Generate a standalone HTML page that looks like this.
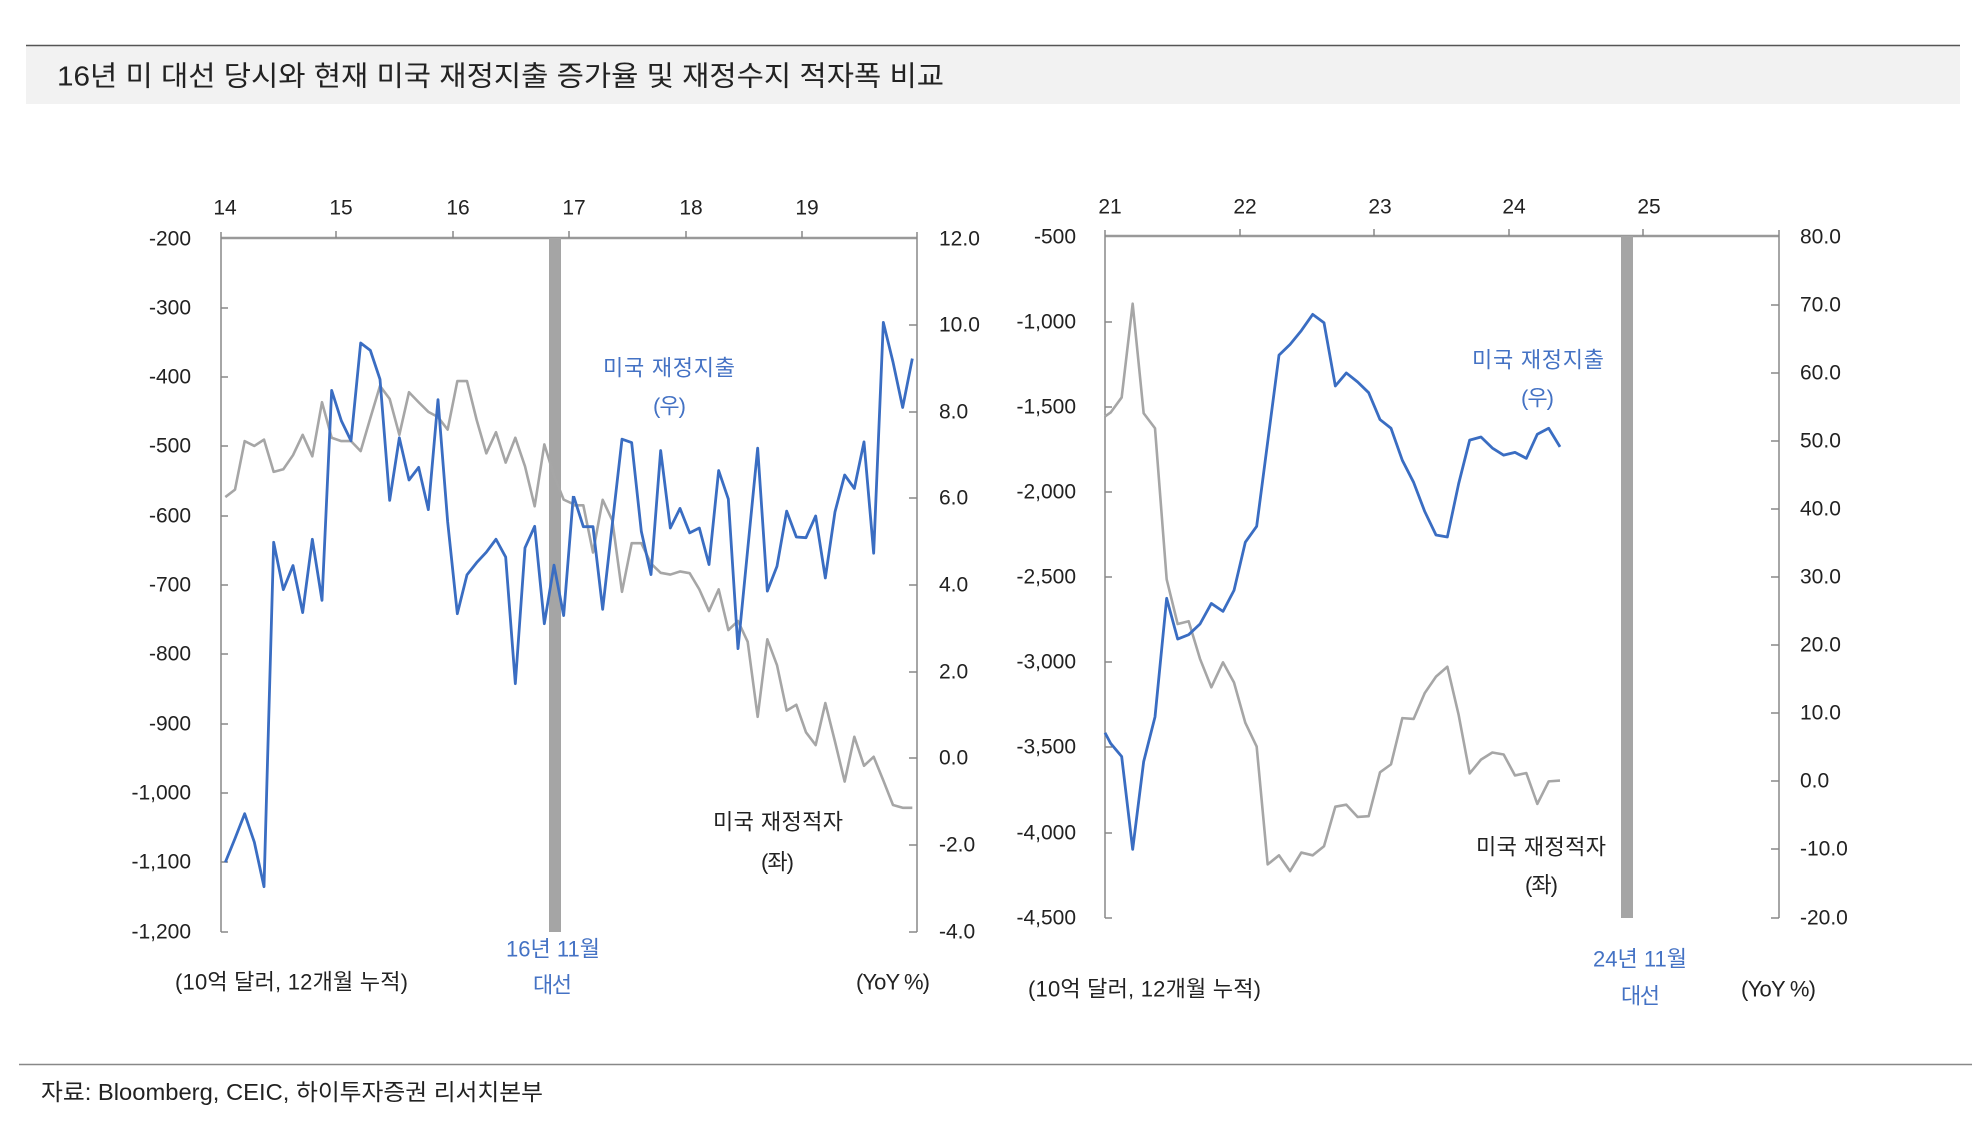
<!DOCTYPE html>
<html><head><meta charset="utf-8"><style>
html,body{margin:0;padding:0;background:#fff}
svg{display:block}
text{font-family:"Liberation Sans","Noto Sans CJK KR",sans-serif}
</style></head><body>
<svg width="1986" height="1130" viewBox="0 0 1986 1130" xmlns="http://www.w3.org/2000/svg">
<rect x="26" y="45" width="1934" height="59" fill="#f2f2f2"/>
<line x1="26" y1="45.5" x2="1960" y2="45.5" stroke="#555" stroke-width="1.5"/>
<text x="57" y="76" font-size="28" fill="#222" dominant-baseline="central" textLength="887" lengthAdjust="spacingAndGlyphs">16년 미 대선 당시와 현재 미국 재정지출 증가율 및 재정수지 적자폭 비교</text>

<!-- LEFT CHART -->
<g font-size="21" fill="#222">
<g text-anchor="middle">
<text x="225" y="208" dominant-baseline="central">14</text>
<text x="341" y="208" dominant-baseline="central">15</text>
<text x="458" y="208" dominant-baseline="central">16</text>
<text x="574" y="208" dominant-baseline="central">17</text>
<text x="691" y="208" dominant-baseline="central">18</text>
<text x="807" y="208" dominant-baseline="central">19</text>
</g>
<g text-anchor="end">
<text x="191" y="239" dominant-baseline="central">-200</text>
<text x="191" y="308" dominant-baseline="central">-300</text>
<text x="191" y="377" dominant-baseline="central">-400</text>
<text x="191" y="446" dominant-baseline="central">-500</text>
<text x="191" y="516" dominant-baseline="central">-600</text>
<text x="191" y="585" dominant-baseline="central">-700</text>
<text x="191" y="654" dominant-baseline="central">-800</text>
<text x="191" y="724" dominant-baseline="central">-900</text>
<text x="191" y="793" dominant-baseline="central">-1,000</text>
<text x="191" y="862" dominant-baseline="central">-1,100</text>
<text x="191" y="932" dominant-baseline="central">-1,200</text>
</g>
<g>
<text x="939" y="239" dominant-baseline="central">12.0</text>
<text x="939" y="325" dominant-baseline="central">10.0</text>
<text x="939" y="412" dominant-baseline="central">8.0</text>
<text x="939" y="498" dominant-baseline="central">6.0</text>
<text x="939" y="585" dominant-baseline="central">4.0</text>
<text x="939" y="672" dominant-baseline="central">2.0</text>
<text x="939" y="758" dominant-baseline="central">0.0</text>
<text x="939" y="845" dominant-baseline="central">-2.0</text>
<text x="939" y="932" dominant-baseline="central">-4.0</text>
</g>
</g>
<g stroke="#888" stroke-width="1.5" fill="none">
<line x1="221" y1="238" x2="917" y2="238" stroke="#999" stroke-width="2.5"/>
<line x1="221" y1="232" x2="221" y2="932"/>
<line x1="917" y1="232" x2="917" y2="932"/>
<path d="M336 231V238M453 231V238M569 231V238M686 231V238M802 231V238"/>
<path d="M221 308h7M221 377h7M221 446h7M221 516h7M221 585h7M221 654h7M221 724h7M221 793h7M221 862h7M221 932h7"/>
<path d="M917 325h-8M917 412h-8M917 498h-8M917 585h-8M917 672h-8M917 758h-8M917 845h-8M917 932h-8"/>
</g>
<rect x="549" y="238" width="12" height="694" fill="#a5a5a5"/>
<g transform="translate(215,320) scale(0.33333,0.37037)" fill="none" stroke-linejoin="round">
<polyline vector-effect="non-scaling-stroke" stroke="#a6a6a6" stroke-width="2.6" points="31,478 60,458 89,327 118,340 147,323 176,410 205,403 234,365 263,310 292,368 321,222 350,318 379,327 408,327 437,354 466,265 495,178 524,213 553,310 582,195 611,222 640,248 669,262 698,296 727,165 756,165 785,270 814,360 843,303 872,385 901,318 930,395 959,503 988,336 1017,420 1046,485 1075,497"/>
<polyline vector-effect="non-scaling-stroke" stroke="#3a6dc2" stroke-width="2.8" points="31,1464 60,1400 89,1333 118,1410 147,1530 176,600 205,728 234,663 263,790 292,592 321,757 350,190 379,272 408,326 437,62 466,82 495,160 524,487 553,318 582,432 611,398 640,512 669,215 698,545 727,793 756,688 785,655 814,627 843,592 872,640 901,982 930,615 959,557 988,820 1017,662 1046,798 1075,475"/>
</g>
<g transform="translate(560,300) scale(0.33333,0.34448)" fill="none" stroke-linejoin="round">
<polyline vector-effect="non-scaling-stroke" stroke="#a6a6a6" stroke-width="2.6" points="41,596 70,596 99,733 128,580 157,640 186,847 215,706 244,706 273,765 302,792 331,797 360,788 389,793 418,840 447,903 476,840 505,958 534,932 563,992 593,1210 622,985 651,1060 680,1192 709,1175 738,1255 767,1292 796,1170 825,1282 854,1398 883,1268 912,1352 941,1326 970,1395 999,1466 1028,1474 1057,1474"/>
<polyline vector-effect="non-scaling-stroke" stroke="#3a6dc2" stroke-width="2.8" points="41,570 70,658 99,658 128,898 157,650 186,404 215,414 244,672 273,797 302,437 331,662 360,605 389,676 418,662 447,768 476,495 505,578 534,1012 563,725 593,430 622,845 651,773 680,613 709,688 738,690 767,627 796,807 825,615 854,508 883,547 912,412 941,735 970,65 999,180 1028,312 1057,170"/>
</g>
<g font-size="22" lengthAdjust="spacingAndGlyphs">
<text x="603" y="368" fill="#4472c4" dominant-baseline="central" textLength="132">미국 재정지출</text>
<text x="653" y="406" fill="#4472c4" dominant-baseline="central" textLength="33">(우)</text>
<text x="713" y="822" fill="#222" dominant-baseline="central" textLength="130">미국 재정적자</text>
<text x="761" y="862" fill="#222" dominant-baseline="central" textLength="33">(좌)</text>
<text x="506" y="949" fill="#4472c4" dominant-baseline="central" textLength="94">16년 11월</text>
<text x="533" y="985" fill="#4472c4" dominant-baseline="central" textLength="39">대선</text>
<text x="175" y="982" fill="#222" dominant-baseline="central" textLength="233">(10억 달러, 12개월 누적)</text>
<text x="856" y="982" fill="#222" dominant-baseline="central" textLength="74">(YoY %)</text>
</g>

<!-- RIGHT CHART -->
<g font-size="21" fill="#222">
<g text-anchor="middle">
<text x="1110" y="207" dominant-baseline="central">21</text>
<text x="1245" y="207" dominant-baseline="central">22</text>
<text x="1380" y="207" dominant-baseline="central">23</text>
<text x="1514" y="207" dominant-baseline="central">24</text>
<text x="1649" y="207" dominant-baseline="central">25</text>
</g>
<g text-anchor="end">
<text x="1076" y="237" dominant-baseline="central">-500</text>
<text x="1076" y="322" dominant-baseline="central">-1,000</text>
<text x="1076" y="407" dominant-baseline="central">-1,500</text>
<text x="1076" y="492" dominant-baseline="central">-2,000</text>
<text x="1076" y="577" dominant-baseline="central">-2,500</text>
<text x="1076" y="662" dominant-baseline="central">-3,000</text>
<text x="1076" y="747" dominant-baseline="central">-3,500</text>
<text x="1076" y="833" dominant-baseline="central">-4,000</text>
<text x="1076" y="918" dominant-baseline="central">-4,500</text>
</g>
<g>
<text x="1800" y="237" dominant-baseline="central">80.0</text>
<text x="1800" y="305" dominant-baseline="central">70.0</text>
<text x="1800" y="373" dominant-baseline="central">60.0</text>
<text x="1800" y="441" dominant-baseline="central">50.0</text>
<text x="1800" y="509" dominant-baseline="central">40.0</text>
<text x="1800" y="577" dominant-baseline="central">30.0</text>
<text x="1800" y="645" dominant-baseline="central">20.0</text>
<text x="1800" y="713" dominant-baseline="central">10.0</text>
<text x="1800" y="781" dominant-baseline="central">0.0</text>
<text x="1800" y="849" dominant-baseline="central">-10.0</text>
<text x="1800" y="918" dominant-baseline="central">-20.0</text>
</g>
</g>
<g stroke="#888" stroke-width="1.5" fill="none">
<line x1="1105" y1="236" x2="1779" y2="236" stroke="#999" stroke-width="2.5"/>
<line x1="1105" y1="230" x2="1105" y2="918"/>
<line x1="1779" y1="230" x2="1779" y2="918"/>
<path d="M1240 229V236M1374 229V236M1509 229V236M1643 229V236"/>
<path d="M1105 322h7M1105 407h7M1105 492h7M1105 577h7M1105 662h7M1105 747h7M1105 833h7M1105 918h7"/>
<path d="M1779 305h-8M1779 373h-8M1779 441h-8M1779 509h-8M1779 577h-8M1779 645h-8M1779 713h-8M1779 781h-8M1779 849h-8M1779 918h-8"/>
</g>
<rect x="1621" y="236" width="12" height="682" fill="#a5a5a5"/>
<g transform="translate(1100,280) scale(0.33333,0.39541)" fill="none" stroke-linejoin="round">
<polyline vector-effect="non-scaling-stroke" stroke="#a6a6a6" stroke-width="2.6" points="15,345 32,335 65,297 98,60 131,337 165,375 200,757 233,870 266,863 300,958 334,1030 369,967 402,1018 436,1120 470,1180 503,1478 537,1455 570,1495 604,1448 638,1455 672,1432 706,1332 739,1327 773,1358 806,1356 840,1245 873,1225 907,1108 941,1110 974,1045 1008,1003 1042,978 1076,1100 1109,1248 1143,1213 1177,1195 1211,1200 1245,1253 1279,1247 1312,1325 1346,1268 1380,1266"/>
<polyline vector-effect="non-scaling-stroke" stroke="#3a6dc2" stroke-width="2.8" points="15,1145 32,1172 65,1205 98,1440 131,1218 165,1105 200,805 233,908 266,897 300,870 334,818 369,838 402,785 436,663 470,623 503,410 537,190 570,163 604,128 638,87 672,108 706,268 739,235 773,258 806,285 840,353 873,375 907,456 941,512 974,585 1008,645 1042,650 1076,515 1109,405 1143,397 1177,425 1211,443 1245,436 1279,451 1312,390 1346,375 1380,422"/>
</g>
<g font-size="22" lengthAdjust="spacingAndGlyphs">
<text x="1472" y="360" fill="#4472c4" dominant-baseline="central" textLength="132">미국 재정지출</text>
<text x="1521" y="398" fill="#4472c4" dominant-baseline="central" textLength="33">(우)</text>
<text x="1476" y="847" fill="#222" dominant-baseline="central" textLength="130">미국 재정적자</text>
<text x="1525" y="885" fill="#222" dominant-baseline="central" textLength="33">(좌)</text>
<text x="1593" y="959" fill="#4472c4" dominant-baseline="central" textLength="94">24년 11월</text>
<text x="1621" y="996" fill="#4472c4" dominant-baseline="central" textLength="39">대선</text>
<text x="1028" y="989" fill="#222" dominant-baseline="central" textLength="233">(10억 달러, 12개월 누적)</text>
<text x="1741" y="989" fill="#222" dominant-baseline="central" textLength="75">(YoY %)</text>
</g>

<line x1="19" y1="1064.5" x2="1972" y2="1064.5" stroke="#888" stroke-width="1.5"/>
<text x="41" y="1092" font-size="23" fill="#222" dominant-baseline="central" textLength="502" lengthAdjust="spacingAndGlyphs">자료: Bloomberg, CEIC, 하이투자증권 리서치본부</text>
</svg>
</body></html>
